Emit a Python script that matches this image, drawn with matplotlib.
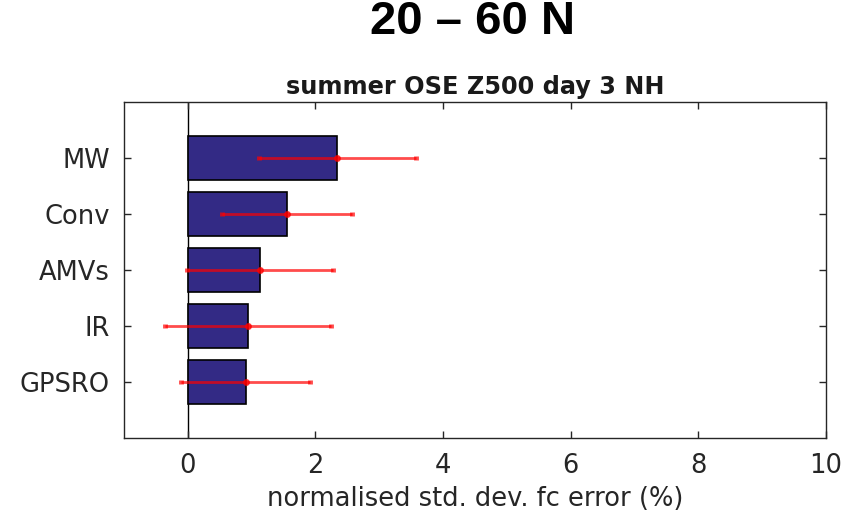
import matplotlib

matplotlib.use("Agg")
import matplotlib.pyplot as plt

# data (top to bottom)
obs_types = ["MW", "Conv", "AMVs", "IR", "GPSRO"]
impact = [2.34, 1.55, 1.13, 0.94, 0.91]
err = [1.23, 1.02, 1.15, 1.30, 1.01]
xticks = [0, 2, 4, 6, 8, 10]

fig = plt.figure(figsize=(8.43, 5.18), dpi=100)
ax = fig.add_axes([0.1471, 0.1544, 0.8327, 0.6487])

ypos = list(range(len(obs_types), 0, -1))
ax.barh(ypos, impact, height=0.8, color="#332a85", edgecolor="black", linewidth=1.2, zorder=2)
ax.errorbar(impact, ypos, xerr=err, fmt="o", color="red", ms=4, elinewidth=2,
            capsize=1.2, capthick=3.5, alpha=0.7, zorder=3)
ax.axvline(0, color="black", linewidth=1, zorder=1)

ax.set_xlim(-1, 10)
ax.set_ylim(0, len(obs_types) + 1)
ax.set_xticks(xticks)
ax.set_yticks(ypos)
ax.set_yticklabels(obs_types)
ax.tick_params(direction="in", length=5, width=1, top=True, right=True,
               labelsize=18.5, colors="#262626")
ax.tick_params(axis="x", pad=11)
ax.tick_params(axis="y", pad=10)
for s in ax.spines.values():
    s.set_color("#262626")
    s.set_linewidth(1)
ax.set_xlabel("normalised std. dev. fc error (%)", fontsize=18.5, color="#262626", labelpad=5)

fig.text(0.561, 0.957, "20 – 60 N", ha="center", va="center", fontsize=34,
         fontweight="bold", family="Liberation Sans")
fig.text(0.5635, 0.832, "summer OSE Z500 day 3 NH", ha="center", va="center",
         fontsize=17.3, fontweight="bold", color="#1a1a1a")

fig.savefig("out.png", dpi=100)
